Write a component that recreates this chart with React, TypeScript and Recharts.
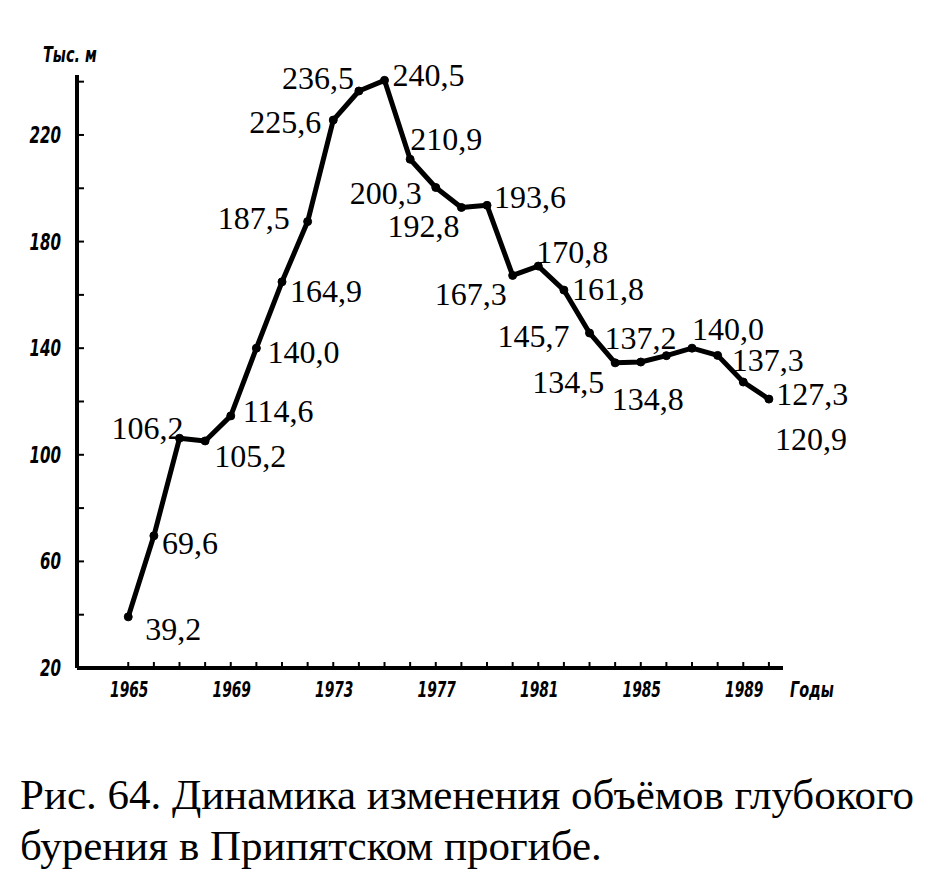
import { LineChart, Line, XAxis, YAxis, LabelList } from 'recharts';

// Годы и объёмы глубокого бурения, тыс. м
const years = [
  1965, 1966, 1967, 1968, 1969, 1970, 1971, 1972, 1973, 1974, 1975, 1976, 1977,
  1978, 1979, 1980, 1981, 1982, 1983, 1984, 1985, 1986, 1987, 1988, 1989, 1990,
];
const volumes = [
  39.2, 69.6, 106.2, 105.2, 114.6, 140.0, 164.9, 187.5, 225.6, 236.5, 240.5, 210.9, 200.3,
  192.8, 193.6, 167.3, 170.8, 161.8, 145.7, 134.5, 134.8, 137.2, 140.0, 137.3, 127.3, 120.9,
];

// where each value label sits relative to its point (text left edge, text middle)
const labelDx = [17, 8, -68, 9, 12, 11, 8, -90, -84, -77, 8, 0, -86, -74, 7, -78, -2, 8, -92, -83, -29, -62, 0, 14, 33, 6];
const labelDy = [12, 7, -10, 15, -5, 4, 9, -4, 2, -13, -5, -20, 6, 19, -8, 19, -14, -1, 3, 19, 37, -18, -19, 5, 12, 40];

const yTicks = [20, 40, 60, 80, 100, 120, 140, 160, 180, 200, 220, 240];
const yTickLabels = [20, 60, 100, 140, 180, 220];
const xTickLabels = [1965, 1969, 1973, 1977, 1981, 1985, 1989];

const data = years.map((year, i) => ({ year, v: volumes[i] }));

const AXIS_X = 77;
const AXIS_Y = 668;

// narrow bold italic lettering of the axes
function NarrowText({ x, y, anchor = 'start', size = 22, children }: any) {
  return (
    <text
      transform={`translate(${x},${y}) scale(0.73,1)`}
      textAnchor={anchor}
      fontFamily="'DejaVu Sans Condensed', 'DejaVu Sans', sans-serif"
      fontStyle="italic"
      fontWeight="bold"
      fontSize={size}
      fill="#000"
    >
      {children}
    </text>
  );
}

function YTick(props: any) {
  const { y, payload } = props;
  const v = payload.value;
  return (
    <g>
      <line x1={AXIS_X} x2={AXIS_X + 7} y1={y} y2={y} stroke="#000" strokeWidth={2} />
      {yTickLabels.includes(v) && (
        <NarrowText x={61} y={y + 8} anchor="end" size={23}>
          {v}
        </NarrowText>
      )}
    </g>
  );
}

function XTick(props: any) {
  const { x, payload } = props;
  const v = payload.value;
  return (
    <g>
      <line x1={x} x2={x} y1={AXIS_Y} y2={AXIS_Y - 6} stroke="#000" strokeWidth={2} />
      {xTickLabels.includes(v) && (
        <NarrowText x={x + 1} y={AXIS_Y + 29} anchor="middle" size={21}>
          {v}
        </NarrowText>
      )}
    </g>
  );
}

function ValueLabel(props: any) {
  const { x, y, index, value } = props;
  return (
    <text
      x={x + labelDx[index]}
      y={y + labelDy[index] + 11}
      fontFamily="'Liberation Serif', 'Times New Roman', serif"
      fontSize={32}
      fill="#000"
    >
      {Number(value).toFixed(1).replace('.', ',')}
    </text>
  );
}

export default function App() {
  return (
    <div style={{ position: 'absolute', left: 0, top: 0, width: 941, height: 879, background: '#fff' }}>
      <LineChart
        width={941}
        height={760}
        data={data}
        margin={{ top: 75, right: 158, bottom: 52, left: 18 }}
      >
        <XAxis
          type="number"
          dataKey="year"
          domain={[1963, 1990.55]}
          ticks={years}
          interval={0}
          height={40}
          axisLine={{ stroke: '#000', strokeWidth: 4 }}
          tickLine={false}
          tick={<XTick />}
        />
        <YAxis
          type="number"
          domain={[20, 242.5]}
          ticks={yTicks}
          interval={0}
          width={59}
          axisLine={{ stroke: '#000', strokeWidth: 4 }}
          tickLine={false}
          tick={<YTick />}
        />
        <Line
          type="linear"
          dataKey="v"
          stroke="#000"
          strokeWidth={5}
          strokeLinejoin="round"
          dot={{ r: 4, fill: '#000', stroke: '#000', strokeWidth: 1 }}
          isAnimationActive={false}
        >
          <LabelList dataKey="v" content={<ValueLabel />} />
        </Line>
        <NarrowText x={43} y={62} size={22}>
          Тыс. м
        </NarrowText>
        <NarrowText x={790} y={AXIS_Y + 29} size={22}>
          Годы
        </NarrowText>
      </LineChart>
      <div
        style={{
          position: 'absolute',
          left: 20,
          top: 769,
          fontFamily: "'Liberation Serif', 'Times New Roman', serif",
          fontSize: 43,
          lineHeight: '51px',
          color: '#000',
          whiteSpace: 'nowrap',
        }}
      >
        Рис. 64. Динамика изменения объёмов глубокого
        <br />
        бурения в Припятском прогибе.
      </div>
    </div>
  );
}
